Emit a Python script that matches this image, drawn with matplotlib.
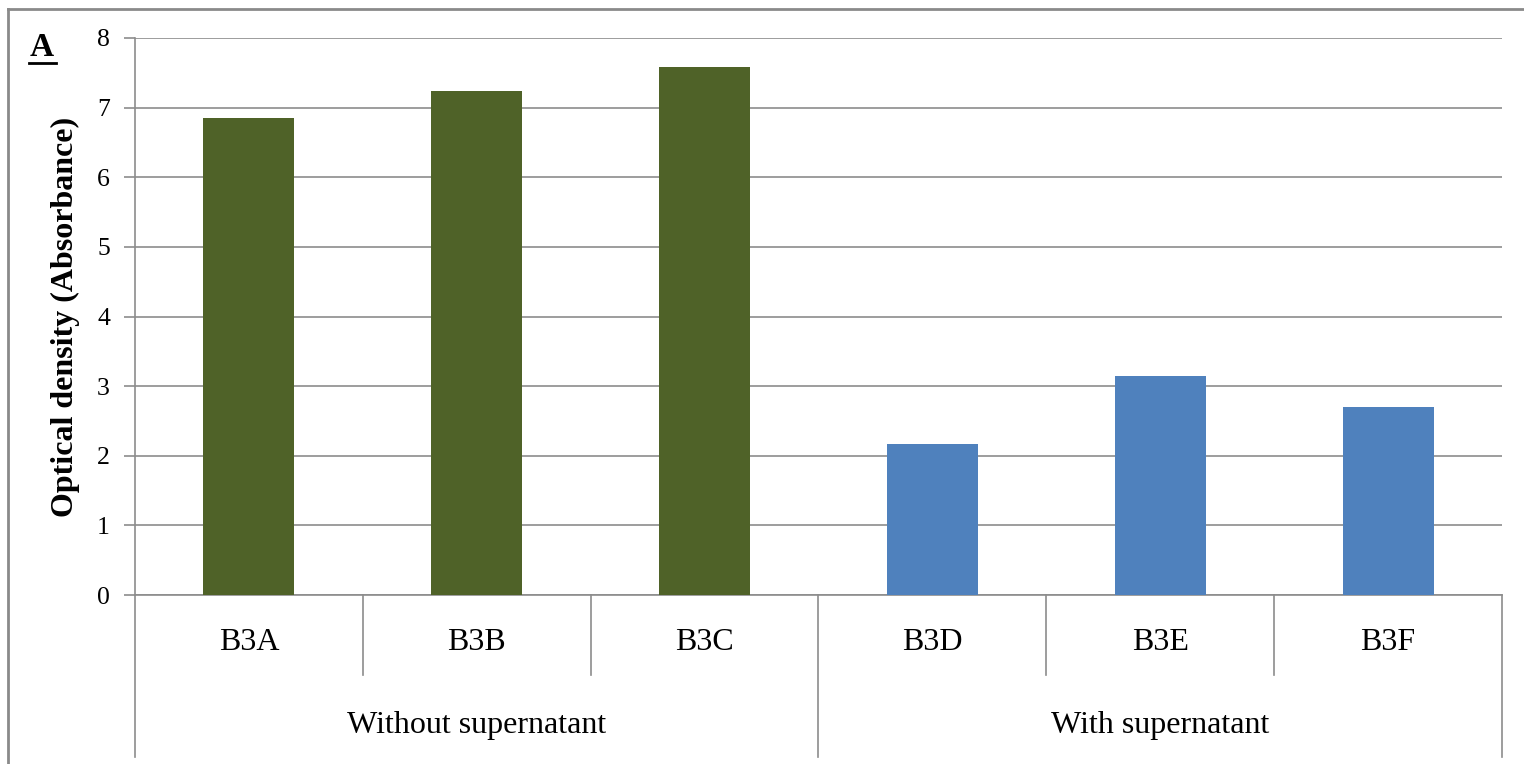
import matplotlib.pyplot as plt
from matplotlib.lines import Line2D
import matplotlib.transforms as mtransforms

samples = ['B3A', 'B3B', 'B3C', 'B3D', 'B3E', 'B3F']
optical_density = [6.85, 7.24, 7.59, 2.17, 3.15, 2.70]
groups = ['Without supernatant', 'With supernatant']
group_sizes = [3, 3]
group_colors = ['#4F6228', '#4F81BD']

plt.rcParams['font.family'] = ['Liberation Serif', 'DejaVu Serif']
line_grey = '#8C8C8C'

fig = plt.figure(figsize=(15.24, 7.64), dpi=100)
ax = fig.add_axes([135 / 1524, 1 - 595 / 764, (1502 - 135) / 1524, (595 - 38) / 764])

colors = []
for c, n in zip(group_colors, group_sizes):
    colors += [c] * n
x = list(range(len(samples)))
ax.bar(x, optical_density, width=0.4, color=colors, zorder=3)

ax.set_xlim(-0.5, len(samples) - 0.5)
ax.set_ylim(0, 8)
ax.set_yticks(range(0, 9))
ax.yaxis.grid(True, color=line_grey, linewidth=1.2, zorder=0)
ax.tick_params(axis='y', length=8, width=1.2, color=line_grey, labelsize=18.5, pad=10)
ax.set_xticks([])
for s in ['top', 'right']:
    ax.spines[s].set_visible(False)
ax.spines['left'].set_color(line_grey)
ax.spines['bottom'].set_color(line_grey)
ax.spines['left'].set_linewidth(1.2)
ax.spines['bottom'].set_linewidth(1.2)
ax.set_ylabel('Optical density (Absorbance)', fontsize=23, fontweight='bold', labelpad=12)

# category axis with two levels
trans = mtransforms.blended_transform_factory(ax.transData, ax.transAxes)
inner = -80 / 557
outer = -162 / 557
ax.plot([-0.5, -0.5], [0, outer], color=line_grey, lw=1.2, transform=trans, clip_on=False)
pos = 0
for g, n in zip(groups, group_sizes):
    for i in range(pos, pos + n):
        ax.text(i, -47 / 557, samples[i], transform=trans, ha='center', va='center', fontsize=23)
        if i < pos + n - 1:
            ax.plot([i + 0.5, i + 0.5], [0, inner], color=line_grey, lw=1.2, transform=trans, clip_on=False)
    ax.text(pos + (n - 1) / 2, -130 / 557, g, transform=trans, ha='center', va='center', fontsize=23)
    pos += n
    ax.plot([pos - 0.5, pos - 0.5], [0, outer], color=line_grey, lw=1.2, transform=trans, clip_on=False)

# panel letter, underlined
fig.text(30 / 1524, 1 - 48 / 764, 'A', fontsize=24, fontweight='bold', va='center', ha='left')
fig.add_artist(Line2D([29 / 1524, 56 / 1524], [1 - 63 / 764, 1 - 63 / 764], color='black', lw=2))

# outer frame (cut off at right and bottom)
fig.add_artist(Line2D([8 / 1524, 8 / 1524], [0, 1 - 9 / 764], color='#8A8A8A', lw=2))
fig.add_artist(Line2D([8 / 1524, 1], [1 - 9 / 764, 1 - 9 / 764], color='#8A8A8A', lw=2))

fig.savefig('out.png', dpi=100)
